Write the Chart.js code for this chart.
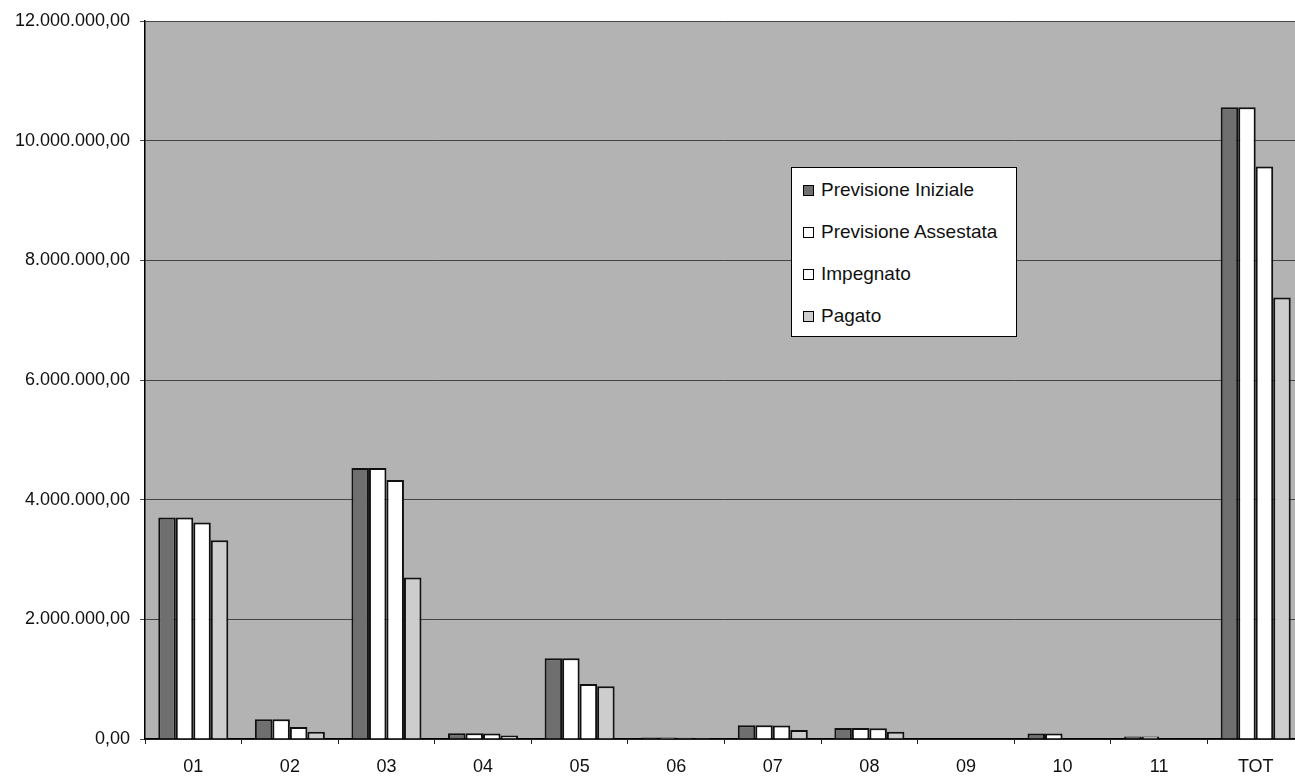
<!DOCTYPE html>
<html lang="it">
<head>
<meta charset="utf-8">
<title>Previsione / Impegnato / Pagato</title>
<script src="https://cdn.jsdelivr.net/npm/chart.js@4/dist/chart.umd.min.js"></script>
<style>
  html, body { margin:0; padding:0; background:#fff; overflow:hidden; }
  #wrap { position:absolute; left:0; top:0; width:1310px; height:776px; }
  #legend {
    position:absolute; left:791px; top:167px; width:226px; height:170px;
    background:#fff; border:1px solid #000; box-sizing:border-box; padding-top:1px;
    font-family:'Liberation Sans', Arial, sans-serif; font-size:19px; color:#111;
  }
  #legend .item { height:42px; display:flex; align-items:center; padding-left:11px; }
  #legend .box { width:9px; height:9px; border:1px solid #000; margin-right:7px; flex:none; }
</style>
</head>
<body>
<div id="wrap">
  <canvas id="ch-spesa"></canvas>
  <div id="legend"></div>
</div>
<script>
'use strict';

// categorie e serie (valori in euro)
const categorie = ['01','02','03','04','05','06','07','08','09','10','11','TOT'];
const previsioneIniziale   = [3700000, 330000, 4530000, 95000, 1350000, 25000, 230000, 185000, 0, 90000, 40000, 10560000];
const previsioneAssestata  = [3700000, 330000, 4530000, 95000, 1350000, 25000, 230000, 185000, 0, 90000, 40000, 10560000];
const impegnato            = [3620000, 200000, 4330000, 90000,  920000, 20000, 225000, 180000, 0,  5000,  5000,  9570000];
const pagato               = [3320000, 120000, 2700000, 60000,  880000, 15000, 150000, 120000, 0,     0,     0,  7380000];
const yTicks = [0, 2000000, 4000000, 6000000, 8000000, 10000000, 12000000];

function fmtIt(v) {
  const s = Math.round(v).toString().replace(/\B(?=(\d{3})+(?!\d))/g, '.');
  return s + ',00';
}

const plotBg = {
  id:'plotBg',
  beforeDraw(chart) {
    const {ctx, chartArea:a} = chart;
    ctx.save();
    ctx.fillStyle = '#b3b3b3';
    ctx.fillRect(a.left, a.top, a.right - a.left, a.bottom - a.top);
    ctx.restore();
  }
};

Chart.defaults.font.family = "'Liberation Sans', Arial, sans-serif";
Chart.defaults.font.size = 18;
Chart.defaults.color = '#111';

const chart = new Chart(document.getElementById('ch-spesa'), {
  type:'bar',
  data:{
    labels:categorie,
    datasets:[
      {label:'Previsione Iniziale',  data:previsioneIniziale,  backgroundColor:'#6f6f6f'},
      {label:'Previsione Assestata', data:previsioneAssestata, backgroundColor:'#ffffff'},
      {label:'Impegnato',            data:impegnato,           backgroundColor:'#ffffff'},
      {label:'Pagato',               data:pagato,              backgroundColor:'#cdcdcd'}
    ].map(d => Object.assign(d, {borderColor:'#111', borderWidth:2, borderSkipped:'bottom',
                                 categoryPercentage:0.725, barPercentage:1.0}))
  },
  options:{
    responsive:true, maintainAspectRatio:false, animation:false,
    layout:{padding:{top:21, right:6, left:0, bottom:0}},
    plugins:{legend:{display:false}, tooltip:{enabled:false}},
    scales:{
      x:{
        grid:{drawOnChartArea:false, drawTicks:true, tickLength:5, color:'#222', offset:true},
        border:{display:true, color:'#000', width:1.5},
        ticks:{padding:12, color:'#111'},
        afterFit(s){ s.height = 37; }
      },
      y:{
        min:0, max:12000000,
        afterBuildTicks(s){ s.ticks = yTicks.map(v => ({value:v})); },
        grid:{color:'#444', lineWidth:1, tickLength:5},
        border:{display:true, color:'#000', width:1.5},
        ticks:{padding:10, color:'#111', callback:v => fmtIt(v)},
        afterFit(s){ s.width = 145; }
      }
    }
  },
  plugins:[plotBg]
});

// legenda HTML costruita dai dataset
const leg = document.getElementById('legend');
chart.data.datasets.forEach(ds => {
  const it = document.createElement('div');
  it.className = 'item';
  it.innerHTML = `<span class="box" style="background:${ds.backgroundColor}"></span><span>${ds.label}</span>`;
  leg.appendChild(it);
});
</script>
</body>
</html>
